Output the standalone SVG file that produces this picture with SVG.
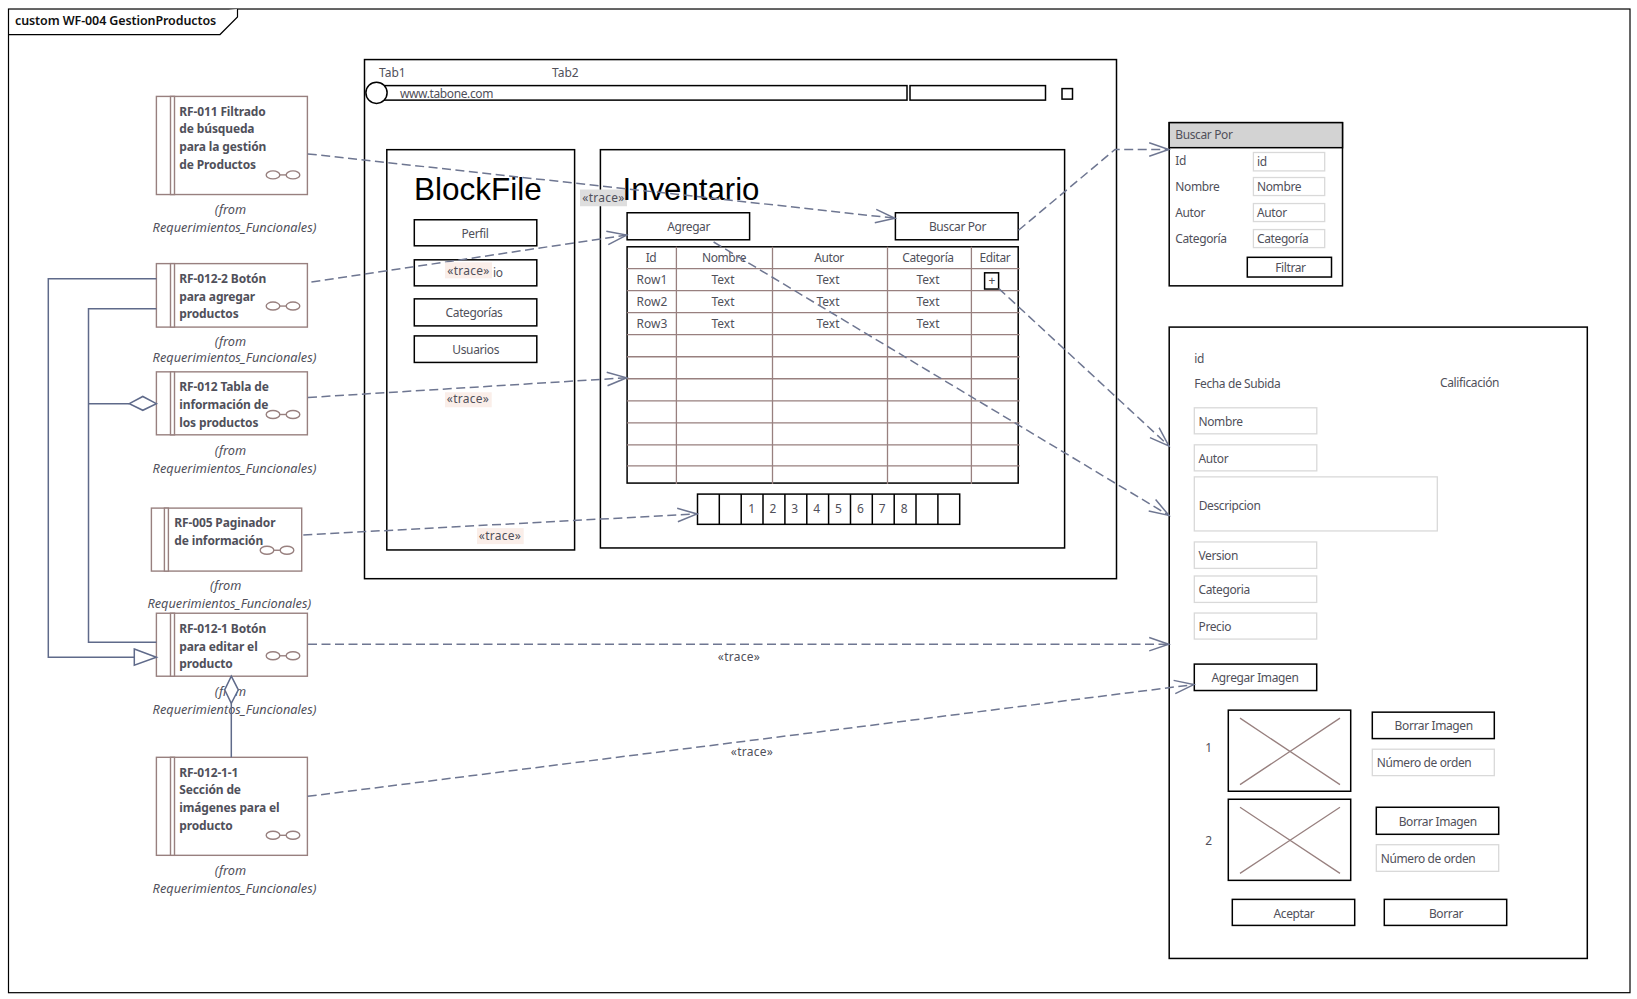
<svg xmlns="http://www.w3.org/2000/svg" width="1637" height="999" viewBox="0 0 1637 999">
<style>
text{font-family:"Noto Sans","Open Sans","Liberation Sans",sans-serif;font-size:12px;fill:#50505a;letter-spacing:-.38px}
.m{text-anchor:middle}
.n{letter-spacing:0}
.tr{letter-spacing:.25px}
.b{font-weight:700;letter-spacing:-.13px}
.i{font-style:italic;font-size:12.75px;letter-spacing:0}
.big{font-family:"Liberation Sans",Arial,sans-serif;font-size:31.5px;fill:#000;letter-spacing:0}
.t{font-weight:600;font-size:12.5px;fill:#111;letter-spacing:-.1px}
.box{fill:#fff;stroke:#000;stroke-width:1.5}
.nf{fill:none;stroke:#000;stroke-width:1.5}
.inp{fill:#fff;stroke:#d9d9d9;stroke-width:1.3}
.req{fill:#fff;stroke:#98807f;stroke-width:1.4}
.gl{fill:none;stroke:#98807f;stroke-width:1.4}
.grid{fill:none;stroke:#98807f;stroke-width:1.3}
.lbl{fill:#faeee9}
.c{fill:none;stroke:#5f6a8a;stroke-width:1.5}
.d{fill:none;stroke:#6e7691;stroke-width:1.5;stroke-dasharray:9 4.5;marker-end:url(#open)}
.sh{fill:#fff;stroke:#5f6a8a;stroke-width:1.5}
</style>
<defs>
<marker id="open" markerUnits="userSpaceOnUse" markerWidth="24" markerHeight="18" refX="20.5" refY="8" orient="auto">
<path d="M0.5,1.3 L20,8 L0.5,14.7" fill="none" stroke="#6e7691" stroke-width="1.5"/>
</marker>
<clipPath id="catclip"><rect x="1254" y="230" width="70" height="15.5"/></clipPath>
<g id="glasses"><ellipse cx="-10" cy="0" rx="6.8" ry="4" class="gl"/><ellipse cx="10" cy="0" rx="6.8" ry="4" class="gl"/><path d="M-3.2,0H3.2" class="gl"/></g>
</defs>
<rect width="1637" height="999" fill="#fff"/>
<g transform="scale(1,1.0012)">

<g id="frame">
<rect x="8.5" y="9" width="1621.5" height="982.5" fill="none" stroke="#000" stroke-width="1.2"/>
<path d="M8.5,34.5H220L237.5,17V9" fill="#fff" stroke="#000" stroke-width="1.2"/>
<text x="15" y="25" class="t">custom WF-004 GestionProductos</text>
</g>

<g id="window-main">
<rect x="364.5" y="59.5" width="752" height="518.5" class="box"/>
<text x="379" y="77.3" class="n">Tab1</text>
<text x="552" y="77.3" class="n">Tab2</text>
<rect x="376" y="85.5" width="531" height="14.5" class="box"/>
<circle cx="376.5" cy="92.7" r="10.6" class="box"/>
<text x="400" y="98">www.tabone.com</text>
<rect x="910" y="85.5" width="135.5" height="14.5" class="box"/>
<rect x="1062" y="88.5" width="10.5" height="10.5" class="box"/>
</g>

<g id="sidebar">
<rect x="386.8" y="149.5" width="187.8" height="399.8" class="box"/>
<text x="414" y="200" class="big">BlockFile</text>
<rect x="414.3" y="219.5" width="122.5" height="26" class="box"/>
<text x="475" y="238" class="m">Perfil</text>
<rect x="414.3" y="259.5" width="122.5" height="26" class="box"/>
<text x="493" y="276.7">io</text>
<rect x="414.3" y="298.5" width="122.5" height="27" class="box"/>
<text x="474" y="316.7" class="m">Categorías</text>
<rect x="414.3" y="335.5" width="122.5" height="26.5" class="box"/>
<text x="475.7" y="353.6" class="m">Usuarios</text>
</g>

<g id="inventario">
<rect x="600.4" y="149.5" width="464.2" height="397.8" class="box"/>
<rect x="580" y="189.3" width="47" height="16.7" fill="#dedede"/>
<text x="622.5" y="200" class="big" style="font-size:31.2px">Inventario</text>
<rect x="627.1" y="212.5" width="122.5" height="27" class="box"/>
<text x="688.6" y="231" class="m">Agregar</text>
<rect x="895.4" y="212.5" width="122.8" height="27" class="box"/>
<text x="957.5" y="231" class="m">Buscar Por</text>
</g>

<g id="table">
<rect x="627.1" y="246.5" width="391.1" height="236" class="box"/>
<path class="grid" d="M627,268.3H1019.6M627,290.3H1019.6M627,312.3H1019.6M627,334.3H1019.6M627,356.3H1019.6M627,378.3H1019.6M627,400.3H1019.6M627,422.3H1019.6M627,444.3H1019.6M627,465.3H1019.6M676.4,246.5V483.5M772.5,246.5V483.5M887.5,246.5V483.5M971.4,246.5V483.5"/>
<text x="651" y="262" class="m">Id</text>
<text x="724" y="262" class="m">Nombre</text>
<text x="829" y="262" class="m">Autor</text>
<text x="928" y="262" class="m">Categoría</text>
<text x="995" y="262" class="m">Editar</text>
<text x="652" y="284" class="m n">Row1</text><text x="723" y="284" class="m n">Text</text><text x="828" y="284" class="m n">Text</text><text x="928" y="284" class="m n">Text</text>
<text x="652" y="306" class="m n">Row2</text><text x="723" y="306" class="m n">Text</text><text x="828" y="306" class="m n">Text</text><text x="928" y="306" class="m n">Text</text>
<text x="652" y="328" class="m n">Row3</text><text x="723" y="328" class="m n">Text</text><text x="828" y="328" class="m n">Text</text><text x="928" y="328" class="m n">Text</text>
<rect x="984.6" y="272.5" width="14" height="16.2" class="box"/>
<text x="992" y="285" class="m n">+</text>
</g>

<g id="pager">
<rect x="697.5" y="493.5" width="262.2" height="30.2" class="box"/>
<path class="nf" d="M719.3,493.5V523.7M741.2,493.5V523.7M763,493.5V523.7M784.9,493.5V523.7M806.8,493.5V523.7M828.6,493.5V523.7M850.5,493.5V523.7M872.3,493.5V523.7M894.2,493.5V523.7M916,493.5V523.7M937.9,493.5V523.7"/>
<text x="751.7" y="512.7" class="m n">1</text><text x="773" y="512.7" class="m n">2</text><text x="794.6" y="512.7" class="m n">3</text><text x="816.6" y="512.7" class="m n">4</text><text x="838.5" y="512.7" class="m n">5</text><text x="860.4" y="512.7" class="m n">6</text><text x="882.3" y="512.7" class="m n">7</text><text x="904.2" y="512.7" class="m n">8</text>
</g>

<g id="panel-buscar">
<rect x="1169.2" y="122.5" width="173.3" height="163" class="box"/>
<rect x="1169.2" y="122.5" width="173.3" height="25" fill="#d3d3d3" stroke="#000" stroke-width="1.5"/>
<text x="1175.3" y="138.7">Buscar Por</text>
<text x="1175.3" y="165">Id</text>
<text x="1175.3" y="190.7">Nombre</text>
<text x="1175.3" y="216.7">Autor</text>
<text x="1175.3" y="242.7">Categoría</text>
<rect x="1253.4" y="152.3" width="71.3" height="18.4" class="inp"/><text x="1257" y="165.7">id</text>
<rect x="1253.4" y="177.3" width="71.3" height="18" class="inp"/><text x="1257" y="191">Nombre</text>
<rect x="1253.4" y="203.3" width="71.3" height="18" class="inp"/><text x="1257" y="217">Autor</text>
<rect x="1253.4" y="229.3" width="71.3" height="18" class="inp"/><text x="1257" y="243" clip-path="url(#catclip)">Categoría</text>
<rect x="1247.3" y="257" width="84.2" height="19.7" class="box"/>
<text x="1290.4" y="271.7" class="m">Filtrar</text>
</g>

<g id="panel-detalle">
<rect x="1169.2" y="326.7" width="418.1" height="630.6" class="box"/>
<text x="1194.2" y="362.7">id</text>
<text x="1194.2" y="387.7">Fecha de Subida</text>
<text x="1440" y="386.7">Calificación</text>
<rect x="1194.3" y="407.3" width="122.5" height="26" class="inp"/><text x="1198.5" y="425">Nombre</text>
<rect x="1194.3" y="444.3" width="122.5" height="26" class="inp"/><text x="1198.5" y="462">Autor</text>
<rect x="1194.3" y="476.3" width="243" height="54" class="inp"/><text x="1198.7" y="509">Descripcion</text>
<rect x="1194.3" y="541.3" width="122.4" height="26.4" class="inp"/><text x="1198.5" y="559">Version</text>
<rect x="1194.3" y="575.3" width="122.4" height="26.4" class="inp"/><text x="1198.5" y="593">Categoria</text>
<rect x="1194.3" y="612.3" width="122.4" height="26" class="inp"/><text x="1198.5" y="630">Precio</text>
<rect x="1194.3" y="663.3" width="122.4" height="26.4" class="box"/><text x="1255" y="681" class="m">Agregar Imagen</text>
<rect x="1228.3" y="709.3" width="122.4" height="81" class="box"/>
<path class="grid" d="M1240,717.3L1340,783.7M1340,717.3L1240,783.7"/>
<text x="1208.7" y="750.7" class="m n">1</text>
<rect x="1372.3" y="711.3" width="122" height="26.4" class="box"/><text x="1433.7" y="729.3" class="m">Borrar Imagen</text>
<rect x="1372.3" y="748.3" width="122" height="26.4" class="inp"/><text x="1376.7" y="766">Número de orden</text>
<rect x="1228.3" y="798.3" width="122.4" height="81" class="box"/>
<path class="grid" d="M1240,806.3L1340,872.3M1340,806.3L1240,872.3"/>
<text x="1208.7" y="844" class="m n">2</text>
<rect x="1376.3" y="806.3" width="122.4" height="27" class="box"/><text x="1437.7" y="825.3" class="m">Borrar Imagen</text>
<rect x="1376.3" y="843.7" width="122.4" height="26.6" class="inp"/><text x="1380.7" y="862">Número de orden</text>
<rect x="1232.3" y="898.3" width="122.4" height="26" class="box"/><text x="1294" y="917" class="m">Aceptar</text>
<rect x="1384.3" y="898.3" width="122.4" height="26" class="box"/><text x="1446" y="917" class="m">Borrar</text>
</g>

<g id="req-rf011">
<rect x="156.4" y="96.3" width="151" height="98" class="req"/><rect x="170.5" y="96.3" width="4" height="98" class="req"/>
<text class="b" x="179.3" y="115.7">RF-011 Filtrado</text><text class="b" x="179.3" y="133">de búsqueda</text><text class="b" x="179.3" y="151">para la gestión</text><text class="b" x="179.3" y="169">de Productos</text>
<use href="#glasses" x="283" y="174.7"/>
<text class="m i" x="230.5" y="213.3">(from</text><text class="i" x="152.6" y="231.7">Requerimientos_Funcionales)</text>
</g>
<g id="req-rf012-2">
<rect x="156.4" y="263.3" width="151" height="63.4" class="req"/><rect x="170.5" y="263.3" width="4" height="63.4" class="req"/>
<text class="b" x="179.3" y="283">RF-012-2 Botón</text><text class="b" x="179.3" y="301">para agregar</text><text class="b" x="179.3" y="317.7">productos</text>
<use href="#glasses" x="283" y="305.7"/>
<text class="m i" x="230.5" y="345.5">(from</text><text class="i" x="152.6" y="362">Requerimientos_Funcionales)</text>
</g>
<g id="req-rf012">
<rect x="156.4" y="371.4" width="151" height="62.9" class="req"/><rect x="170.5" y="371.4" width="4" height="62.9" class="req"/>
<text class="b" x="179.3" y="391">RF-012 Tabla de</text><text class="b" x="179.3" y="409">información de</text><text class="b" x="179.3" y="426">los productos</text>
<use href="#glasses" x="283" y="414"/>
<text class="m i" x="230.5" y="454.3">(from</text><text class="i" x="152.6" y="472">Requerimientos_Funcionales)</text>
</g>
<g id="req-rf005">
<rect x="151.4" y="507.5" width="150.3" height="62.9" class="req"/><rect x="164.4" y="507.5" width="4" height="62.9" class="req"/>
<text class="b" x="174.3" y="526">RF-005 Paginador</text><text class="b" x="174.3" y="544">de información</text>
<use href="#glasses" x="277" y="549.6"/>
<text class="m i" x="225.7" y="589">(from</text><text class="i" x="147.4" y="607">Requerimientos_Funcionales)</text>
</g>
<g id="req-rf012-1">
<rect x="156.4" y="612.5" width="151" height="62.9" class="req"/><rect x="170.5" y="612.5" width="4" height="62.9" class="req"/>
<text class="b" x="179.3" y="632">RF-012-1 Botón</text><text class="b" x="179.3" y="650">para editar el</text><text class="b" x="179.3" y="667">producto</text>
<use href="#glasses" x="283" y="655"/>
<text class="m i" x="230.5" y="695.4">(from</text><text class="i" x="152.6" y="712.9">Requerimientos_Funcionales)</text>
</g>
<g id="req-rf012-1-1">
<rect x="156.4" y="756.4" width="151" height="97.9" class="req"/><rect x="170.5" y="756.4" width="4" height="97.9" class="req"/>
<text class="b" x="179.3" y="776">RF-012-1-1</text><text class="b" x="179.3" y="793">Sección de</text><text class="b" x="179.3" y="811">imágenes para el</text><text class="b" x="179.3" y="829">producto</text>
<use href="#glasses" x="283" y="834.3"/>
<text class="m i" x="230.5" y="874">(from</text><text class="i" x="152.6" y="892">Requerimientos_Funcionales)</text>
</g>

<g id="connectors">
<path class="c" d="M156.4,278.3H48.3V656.4H134.3"/>
<path class="sh" d="M134.3,648.2L156.4,656.4L134.3,664.3Z"/>
<path class="c" d="M156.4,308.3H88.5V641.4H156.4"/>
<path class="c" d="M88.5,403.2H129.3"/>
<path class="sh" d="M129.3,403.2L142.8,396L156.4,403.2L142.8,409.8Z"/>
<path class="c" d="M231.3,756.4V702.5"/>
<path class="sh" d="M231.3,675.4L238.3,689L231.3,702.5L224.7,689Z"/>
<path class="d" d="M307.8,153.7L895.4,218"/>
<path class="d" d="M311.4,281.7L627.1,234.7"/>
<path class="d" d="M308,397L627.1,377.3"/>
<path class="d" d="M303.3,534.3L697.5,513.3"/>
<path class="d" d="M308,643.4H1169.2"/>
<path class="d" d="M307.7,795.4L1194.3,683.7"/>
<path class="d" d="M1018.5,230L1115,149.3H1169.2"/>
<path class="d" d="M998.6,288L1169.2,445.7"/>
<path class="d" d="M713.6,241.7L1169.3,515"/>
<rect class="lbl" x="445" y="262" width="47" height="16"/><text x="468.5" y="274.7" class="m tr">«trace»</text>
<text x="603.5" y="201.7" class="m tr">«trace»</text>
<rect class="lbl" x="445" y="391.8" width="46.7" height="15"/><text x="468" y="402.5" class="m tr">«trace»</text>
<rect class="lbl" x="477" y="527.5" width="46.7" height="16"/><text x="500" y="539.3" class="m tr">«trace»</text>
<text x="739" y="660.3" class="m tr">«trace»</text>
<text x="752" y="755.3" class="m tr">«trace»</text>
</g>
</g>
</svg>
